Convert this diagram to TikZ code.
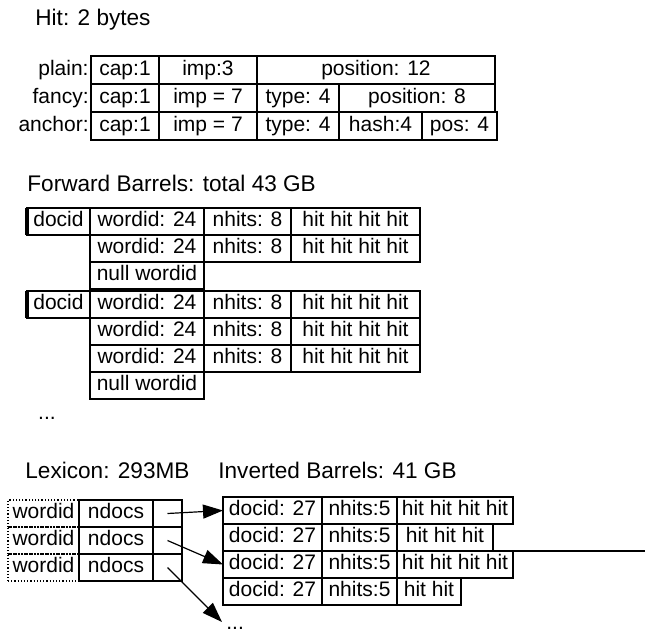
\documentclass[tikz,border=0pt]{standalone}
\usepackage{fontspec}
\setmainfont{Liberation Sans}
\usepackage{tikz}
\usetikzlibrary{arrows.meta}
\tikzset{
  cell/.style={draw, line width=0.6pt, anchor=north west, inner sep=0pt, outer sep=0pt,
    minimum width=#1*0.5pt, minimum height=13.5pt, text height=7.6pt, text depth=2.2pt,
    font=\fontsize{10.5}{12}\selectfont},
  tall/.style={minimum height=14pt},
  dotcell/.style={densely dotted},
  title/.style={anchor=west, inner sep=0pt, font=\fontsize{11.3}{13}\selectfont},
  rowlabel/.style={anchor=east, inner sep=1pt, text height=7.6pt, text depth=2.2pt,
    font=\fontsize{10.5}{12}\selectfont},
  ptrarrow/.style={line width=0.6pt, -{Triangle[length=10pt,width=7pt]}}
}

\begin{document}
\begin{tikzpicture}[x=0.5pt, y=-0.5pt]
\useasboundingbox (0,0) rectangle (645,634);

% --- Hit: 2 bytes ---
\node[title] (hittitle) at (35,20) {Hit: 2 bytes};
% plain
\node[cell=68, tall] (pl-cap) at (91,56) {cap:1};
\node[cell=98, tall] (pl-imp) at (pl-cap.north east) {imp:3};
\node[cell=238, tall] (pl-pos) at (pl-imp.north east) {position: 12};
\node[rowlabel] (lbl-plain) at (pl-cap.west) {plain:};
% fancy
\node[cell=68, tall] (fa-cap) at (91,84) {cap:1};
\node[cell=98, tall] (fa-imp) at (fa-cap.north east) {imp = 7};
\node[cell=82, tall] (fa-type) at (fa-imp.north east) {type: 4};
\node[cell=156, tall] (fa-pos) at (fa-type.north east) {position: 8};
\node[rowlabel] (lbl-fancy) at (fa-cap.west) {fancy:};
% anchor
\node[cell=68, tall] (an-cap) at (91,112) {cap:1};
\node[cell=98, tall] (an-imp) at (an-cap.north east) {imp = 7};
\node[cell=82, tall] (an-type) at (an-imp.north east) {type: 4};
\node[cell=83, tall] (an-hash) at (an-type.north east) {hash:4};
\node[cell=75, tall] (an-pos) at (an-hash.north east) {pos: 4};
\node[rowlabel] (lbl-anchor) at (an-cap.west) {anchor:};
\draw[line width=1.2pt] (an-cap.north west) -- (an-pos.north east);

% --- Forward Barrels ---
\node[title] (fwtitle) at (27,183) {Forward Barrels: total 43 GB};
\foreach \g/\y/\nr in {1/208/2, 2/291/3} {
  \node[cell=63] (doc\g) at (27,\y) {docid};
  \draw[line width=1.6pt] (doc\g.north west) -- (doc\g.south west);
  \foreach \r in {1,...,\nr} {
    \node[cell=114] (wid\g-\r) at (90,{\y+(\r-1)*27}) {wordid: 24};
    \node[cell=87] (nh\g-\r) at (wid\g-\r.north east) {nhits: 8};
    \node[cell=129] (hits\g-\r) at (nh\g-\r.north east) {hit hit hit hit};
  }
  \node[cell=114] (null\g) at (90,{\y+\nr*27}) {null wordid};
}
\node[font=\fontsize{10.5}{12}\selectfont, inner sep=0pt] (fwdots) at (47,418) {...};

% --- Lexicon ---
\node[title] (lextitle) at (25,470) {Lexicon: 293MB};
\foreach \r/\y in {1/500, 2/527, 3/554} {
  \node[cell=71, dotcell] (lw\r) at (8,\y) {wordid};
  \node[cell=74] (nd\r) at (lw\r.north east) {ndocs};
  \node[cell=29] (ptr\r) at (nd\r.north east) {};
}

% --- Inverted Barrels ---
\node[title] (invtitle) at (218,470) {Inverted Barrels: 41 GB};
\foreach \r/\y/\w/\hits in {1/497/116/hit hit hit hit, 2/524/96/hit hit hit,
                            3/551/116/hit hit hit hit, 4/578/64/hit hit} {
  \node[cell=99] (idoc\r) at (223,\y) {docid: 27};
  \node[cell=75] (inh\r) at (idoc\r.north east) {nhits:5};
  \node[cell=\w] (ihit\r) at (inh\r.north east) {\hits};
}
\draw[line width=1.2pt] (idoc3.north west) -- ++(422,0);
\node[font=\fontsize{10.5}{12}\selectfont, inner sep=0pt, anchor=base west] (invdots) at (226,629) {...};
\coordinate (dotsend) at (222,622);

% pointers
\draw[ptrarrow] (ptr1.center) -- (idoc1.west);
\draw[ptrarrow] (ptr2.center) -- (idoc3.west);
\draw[ptrarrow] (ptr3.center) -- (dotsend);
\end{tikzpicture}
\end{document}
